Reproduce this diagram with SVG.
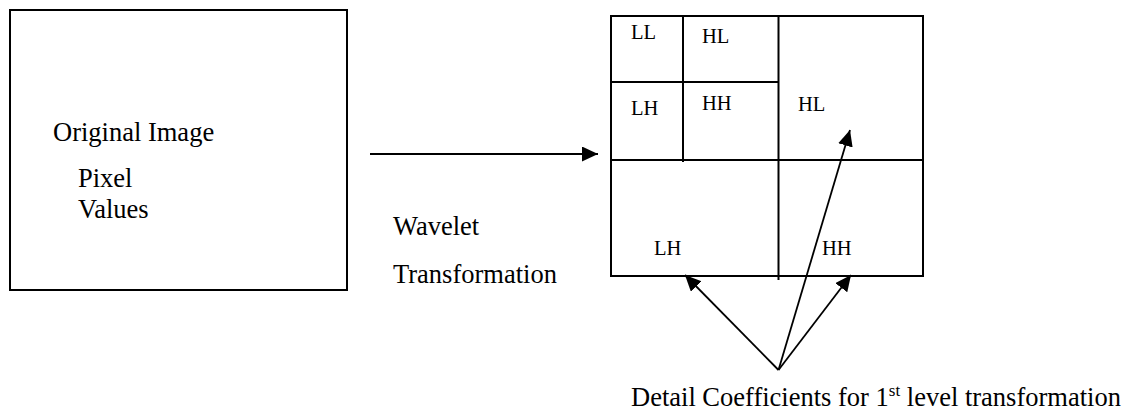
<svg xmlns="http://www.w3.org/2000/svg" width="1135" height="415" viewBox="0 0 1135 415">
<style>
.t{font-family:"Liberation Serif","Times New Roman",serif;fill:#000}
.big{font-size:26.5px}
.lbl{font-size:20.5px}
.box{fill:none;stroke:#000;stroke-width:2}
.ln{stroke:#000;stroke-width:2;fill:none}
.conn{stroke:#000;stroke-width:1.8;fill:none}
</style>
<defs>
<marker id="ah" markerUnits="userSpaceOnUse" markerWidth="18" markerHeight="16" refX="16" refY="7.5" orient="auto">
<path d="M0,0 L16,7.5 L0,15 Z" fill="#000"/>
</marker>
</defs>
<rect width="1135" height="415" fill="#fff"/>
<g id="original">
<rect class="box" x="10" y="10" width="337" height="280"/>
<text class="t big" x="53" y="141">Original Image</text>
<text class="t big" x="78" y="187">Pixel</text>
<text class="t big" x="78" y="218">Values</text>
</g>
<g id="wavelet-label">
<text class="t big" x="393" y="235">Wavelet</text>
<text class="t big" x="393" y="283">Transformation</text>
</g>
<g id="grid">
<rect class="box" x="611" y="16" width="312" height="260"/>
<line class="ln" x1="778.5" y1="16" x2="778.5" y2="280"/>
<line class="ln" x1="611" y1="160" x2="923" y2="160"/>
<line class="ln" x1="683" y1="16" x2="683" y2="162"/>
<line class="ln" x1="611" y1="82" x2="778.5" y2="82"/>
<text class="t lbl" x="631" y="39">LL</text>
<text class="t lbl" x="702" y="43">HL</text>
<text class="t lbl" x="631" y="115">LH</text>
<text class="t lbl" x="702" y="110">HH</text>
<text class="t lbl" x="798" y="111">HL</text>
<text class="t lbl" x="654" y="255">LH</text>
<text class="t lbl" x="822" y="255">HH</text>
</g>
<g id="detail">
<text class="t big" x="631" y="406">Detail Coefficients for 1<tspan font-size="17" dy="-10">st</tspan><tspan dy="10"> level transformation</tspan></text>
</g>
<g id="connectors">
<line class="conn" x1="370" y1="154" x2="598" y2="154" marker-end="url(#ah)"/>
<line class="conn" x1="778.5" y1="370" x2="685" y2="275" marker-end="url(#ah)"/>
<line class="conn" x1="778.5" y1="370" x2="851" y2="275" marker-end="url(#ah)"/>
<line class="conn" x1="778.5" y1="370" x2="850" y2="130" marker-end="url(#ah)"/>
</g>
</svg>
